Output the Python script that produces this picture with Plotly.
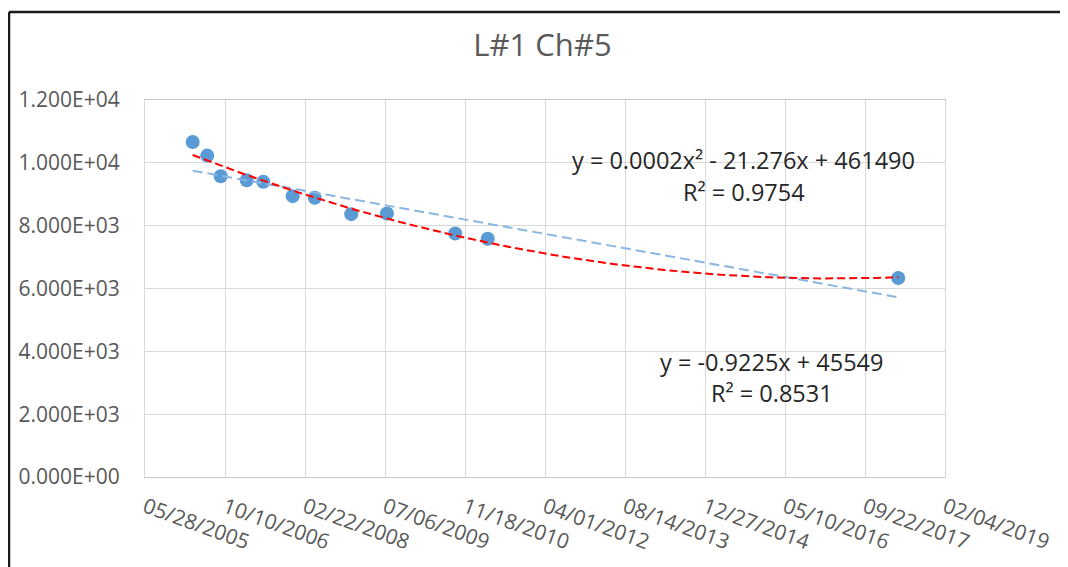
import numpy as np
import pandas as pd
import plotly.graph_objects as go

# ---- data ----
dates = ["2006-03-22", "2006-06-21", "2006-09-13", "2007-02-23", "2007-06-06",
         "2007-12-07", "2008-04-23", "2008-12-07", "2009-07-18", "2010-09-18",
         "2011-04-09", "2018-04-18"]
values = [10665, 10230, 9575, 9448, 9394, 8939, 8885, 8367, 8386, 7750, 7582, 6332]

x_tick_dates = ["2005-05-28", "2006-10-10", "2008-02-22", "2009-07-06", "2010-11-18",
                "2012-04-01", "2013-08-14", "2014-12-27", "2016-05-10", "2017-09-22",
                "2019-02-04"]
x_tick_text = ["05/28/2005", "10/10/2006", "02/22/2008", "07/06/2009", "11/18/2010",
               "04/01/2012", "08/14/2013", "12/27/2014", "05/10/2016", "09/22/2017",
               "02/04/2019"]
y_tick_vals = [0, 2000, 4000, 6000, 8000, 10000, 12000]
y_tick_text = ["0.000E+00", "2.000E+03", "4.000E+03", "6.000E+03", "8.000E+03",
               "1.000E+04", "1.200E+04"]

title_text = "L#1 Ch#5"
poly_eq = "y = 0.0002x² - 21.276x + 461490"
poly_r2 = "R² = 0.9754"
lin_eq = "y = -0.9225x + 45549"
lin_r2 = "R² = 0.8531"

# ---- trendlines fitted to the data (Excel serial day numbers) ----
dt = pd.to_datetime(dates)
serial = np.array([(d - pd.Timestamp("1899-12-30")).days for d in dt], dtype=float)
vals = np.array(values, dtype=float)
grid = np.linspace(serial.min(), serial.max(), 200)
grid_dates = pd.Timestamp("1899-12-30") + pd.to_timedelta(grid, unit="D")
lin = np.polynomial.Polynomial.fit(serial, vals, 1)
quad = np.polynomial.Polynomial.fit(serial, vals, 2)

fig = go.Figure()
fig.add_trace(go.Scatter(x=dt, y=vals, mode="markers",
                         marker=dict(size=14, color="#5B9BD5"), showlegend=False))
fig.add_trace(go.Scatter(x=grid_dates, y=lin(grid), mode="lines",
                         line=dict(color="#8AB6E2", width=2, dash="10px,5px"),
                         showlegend=False))
fig.add_trace(go.Scatter(x=grid_dates, y=quad(grid), mode="lines",
                         line=dict(color="#FF0000", width=2, dash="8px,4px"),
                         showlegend=False))

font_family = "Open Sans"
grid_col = "#D9D9D9"

# page offset of 8px (browser body margin) is compensated in the margins
OFF = 8
L, T = 145 - OFF, 100 - OFF
PW, PH = 800, 377.5
W, H = 1068 - OFF, 567 - OFF

fig.update_layout(
    width=W, height=H,
    margin=dict(l=L, r=W - L - PW, t=T, b=H - T - PH),
    paper_bgcolor="white", plot_bgcolor="white",
    font=dict(family=font_family, color="#595959"),
    title=dict(text=title_text, x=(542.5 - OFF) / W, xanchor="center",
               y=1 - (45 - OFF) / H, yanchor="middle", yref="container",
               font=dict(size=31, color="#595959", family=font_family)),
    xaxis=dict(type="date", range=[x_tick_dates[0], x_tick_dates[-1]],
               tickvals=x_tick_dates, ticktext=x_tick_text, tickangle=20,
               tickfont=dict(size=21, color="#595959"),
               showgrid=True, gridcolor=grid_col, gridwidth=1,
               showline=True, linecolor="#C8C8C8", linewidth=1, mirror=True,
               zeroline=False, ticks="", ticklabelstandoff=9),
    yaxis=dict(range=[0, 12000], tickvals=y_tick_vals, ticktext=y_tick_text,
               tickfont=dict(size=21, color="#595959"),
               showgrid=True, gridcolor=grid_col, gridwidth=1,
               showline=True, linecolor=grid_col, linewidth=1, mirror=True,
               zeroline=False, ticks="", ticklabelstandoff=20),
)

def px_to_paper(px_x, px_y):
    return (px_x - 145) / PW, (477.5 - px_y) / PH

ann_font = dict(size=23.5, color="#262626", family=font_family)
for txt, px_x, px_y in [(poly_eq, 743, 160), (poly_r2, 744, 192),
                        (lin_eq, 771, 362), (lin_r2, 772, 393)]:
    ax, ay = px_to_paper(px_x, px_y)
    fig.add_annotation(text=txt, xref="paper", yref="paper", x=ax, y=ay,
                       xanchor="center", yanchor="middle", showarrow=False,
                       font=ann_font)

# chart border (top and left edges visible in the reference)
x0, y0 = px_to_paper(9, 12)
x1, _ = px_to_paper(1075, 12)
_, y1 = px_to_paper(9, 575)
fig.add_shape(type="line", xref="paper", yref="paper", x0=x0, y0=y0, x1=x1, y1=y0,
              line=dict(color="#1A1A1A", width=2.5))
fig.add_shape(type="line", xref="paper", yref="paper", x0=x0, y0=y0, x1=x0, y1=y1,
              line=dict(color="#1A1A1A", width=2.5))

fig.write_html("out.html")
